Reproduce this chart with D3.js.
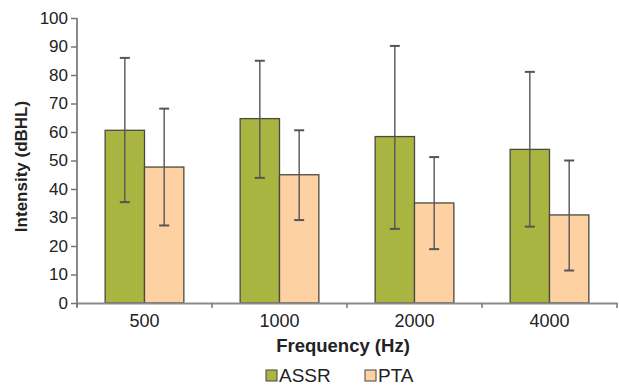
<!DOCTYPE html>
<html>
<head>
<meta charset="utf-8">
<script src="https://cdn.jsdelivr.net/npm/d3@7"></script>
<style>
  body { margin: 0; background: #fff; }
  svg { display: block; font-family: "Liberation Sans", Arial, sans-serif; }
</style>
</head>
<body>
<script>
//Data.
const categories = ["500", "1000", "2000", "4000"];
const series = ["ASSR", "PTA"];
const assrMean = [60.6, 64.7, 58.4, 53.9];
const assrLow = [35.4, 43.9, 26.0, 26.8];
const assrHigh = [86.0, 85.0, 90.2, 81.1];
const ptaMean = [47.7, 45.0, 35.1, 30.9];
const ptaLow = [27.2, 29.1, 18.9, 11.4];
const ptaHigh = [68.2, 60.6, 51.2, 50.0];
const yTicks = [0, 10, 20, 30, 40, 50, 60, 70, 80, 90, 100];

const colors = { ASSR: "#a9b441", PTA: "#fdd1a1" };

//Build rows for drawing.
const rows = [];
categories.forEach((c, i) => {
  rows.push({ cat: c, s: "ASSR", v: assrMean[i], lo: assrLow[i], hi: assrHigh[i] });
  rows.push({ cat: c, s: "PTA", v: ptaMean[i], lo: ptaLow[i], hi: ptaHigh[i] });
});

const width = 619;
const height = 387;
const margin = { top: 18, right: 2, bottom: 84, left: 77 };

const svg = d3.select("body")
  .append("svg")
  .attr("width", width)
  .attr("height", height);

//Scales.
const x0 = d3.scaleBand()
  .domain(categories)
  .range([margin.left, width - margin.right])
  .padding(0);

const x1 = d3.scaleBand()
  .domain(series)
  .range([0, x0.bandwidth()])
  .paddingInner(0)
  .paddingOuter(0.715);

const y = d3.scaleLinear()
  .domain([0, 100])
  .range([height - margin.bottom, margin.top]);

//Bars.
svg.append("g")
  .selectAll("rect")
  .data(rows)
  .join("rect")
  .attr("x", d => x0(d.cat) + x1(d.s))
  .attr("y", d => y(d.v))
  .attr("width", x1.bandwidth())
  .attr("height", d => y(0) - y(d.v))
  .attr("fill", d => colors[d.s])
  .attr("stroke", "#4a4a40")
  .attr("stroke-width", 1.3);

//Error bars.
const err = svg.append("g")
  .attr("stroke", "#555")
  .attr("stroke-width", 1.4);

const cx = d => x0(d.cat) + x1(d.s) + x1.bandwidth() / 2;

err.selectAll("line.stem")
  .data(rows)
  .join("line")
  .attr("class", "stem")
  .attr("x1", cx).attr("x2", cx)
  .attr("y1", d => y(d.lo)).attr("y2", d => y(d.hi));

err.selectAll("line.capHi")
  .data(rows)
  .join("line")
  .attr("class", "capHi")
  .attr("x1", d => cx(d) - 5).attr("x2", d => cx(d) + 5)
  .attr("y1", d => y(d.hi)).attr("y2", d => y(d.hi))
  .attr("stroke-width", 2);

err.selectAll("line.capLo")
  .data(rows)
  .join("line")
  .attr("class", "capLo")
  .attr("x1", d => cx(d) - 5).attr("x2", d => cx(d) + 5)
  .attr("y1", d => y(d.lo)).attr("y2", d => y(d.lo))
  .attr("stroke-width", 2);

//Y axis.
const yAxis = svg.append("g")
  .attr("transform", `translate(${margin.left},0)`)
  .call(d3.axisLeft(y).tickValues(yTicks).tickSize(6).tickPadding(3));
yAxis.select(".domain").attr("stroke", "#8a8a8a").attr("stroke-width", 2)
  .attr("d", `M0,${y(100)}V${y(0) + 4}`);
yAxis.selectAll(".tick line").attr("stroke", "#777").attr("stroke-width", 1.5);
yAxis.selectAll(".tick text")
  .attr("fill", "#222")
  .style("font-size", "17px");

//X axis: labels centered, ticks at band edges.
const xAxis = svg.append("g")
  .attr("transform", `translate(0,${y(0)})`)
  .call(d3.axisBottom(x0).tickSize(0).tickPadding(11));
xAxis.select(".domain").attr("stroke", "#8a8a8a").attr("stroke-width", 2);
xAxis.selectAll(".tick text")
  .attr("fill", "#222")
  .style("font-size", "18px");

const edges = categories.map(c => x0(c)).concat([x0.range()[1]]);
xAxis.selectAll("line.edge")
  .data(edges)
  .join("line")
  .attr("class", "edge")
  .attr("x1", d => d).attr("x2", d => d)
  .attr("y1", 0).attr("y2", 5)
  .attr("stroke", "#777")
  .attr("stroke-width", 1.5);

//Axis titles.
svg.append("text")
  .attr("x", (x0.range()[0] + x0.range()[1]) / 2 - 4)
  .attr("y", 352)
  .attr("text-anchor", "middle")
  .style("font-size", "18.5px")
  .style("font-weight", "bold")
  .attr("fill", "#222")
  .text("Frequency (Hz)");

svg.append("text")
  .attr("transform", `translate(27,${(y(0) + y(100)) / 2 + 6}) rotate(-90)`)
  .attr("text-anchor", "middle")
  .style("font-size", "17px")
  .style("font-weight", "bold")
  .attr("fill", "#222")
  .text("Intensity (dBHL)");

//Legend.
const legendX = [266, 365];
const legend = svg.append("g")
  .selectAll("g")
  .data(series)
  .join("g")
  .attr("transform", (d, i) => `translate(${legendX[i]},370)`);

legend.append("rect")
  .attr("width", 11)
  .attr("height", 11)
  .attr("fill", d => colors[d])
  .attr("stroke", "#444")
  .attr("stroke-width", 1);

legend.append("text")
  .attr("x", 13)
  .attr("y", 12)
  .style("font-size", "19px")
  .attr("fill", "#222")
  .text(d => d);
</script>
</body>
</html>
